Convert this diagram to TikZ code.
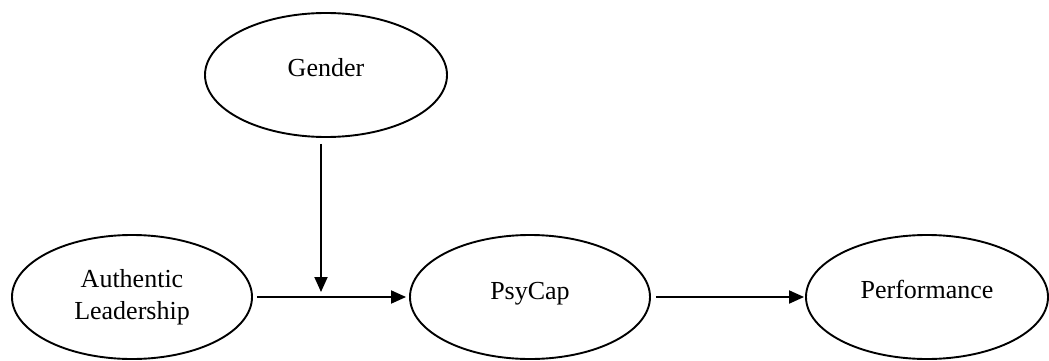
\documentclass[tikz,border=0pt]{standalone}
\usepackage{fontspec}
\setmainfont{Liberation Serif}
\usepackage{tikz}
\usetikzlibrary{shapes.geometric,arrows.meta}
\tikzstyle{construct} = [ellipse,draw,line width=1.9pt,inner sep=0pt,
    minimum width=240pt,minimum height=124pt,align=center,
    font=\fontsize{26}{32}\selectfont
]
\tikzstyle{path} = [line width=1.9pt,-{Triangle[length=15pt,width=13pt]}]

\begin{document}
\begin{tikzpicture}[x=1pt,y=1pt]
	\useasboundingbox (0,0) rectangle (1049,-361);

	\node(gender) at (326,-75) [construct, minimum width=242pt, text height=18pt, text depth=14pt] {Gender};
	\node(leader) at (132,-297) [construct] {Authentic\\Leadership};
	\node(psycap) at (530,-297) [construct, text height=18pt, text depth=14pt] {PsyCap};
	\node(perform) at (927,-297) [construct, minimum width=242pt, text height=18pt, text depth=16pt] {Performance};

	\coordinate(moderate) at (321,-292);

	\draw[path, shorten <=4pt, shorten >=3pt] (leader) -- (psycap);
	\draw[path, shorten <=5pt, shorten >=1pt] (psycap) -- (perform);
	\draw[path, shorten <=6pt] (gender.south -| moderate) -- (moderate);
\end{tikzpicture}
\end{document}
